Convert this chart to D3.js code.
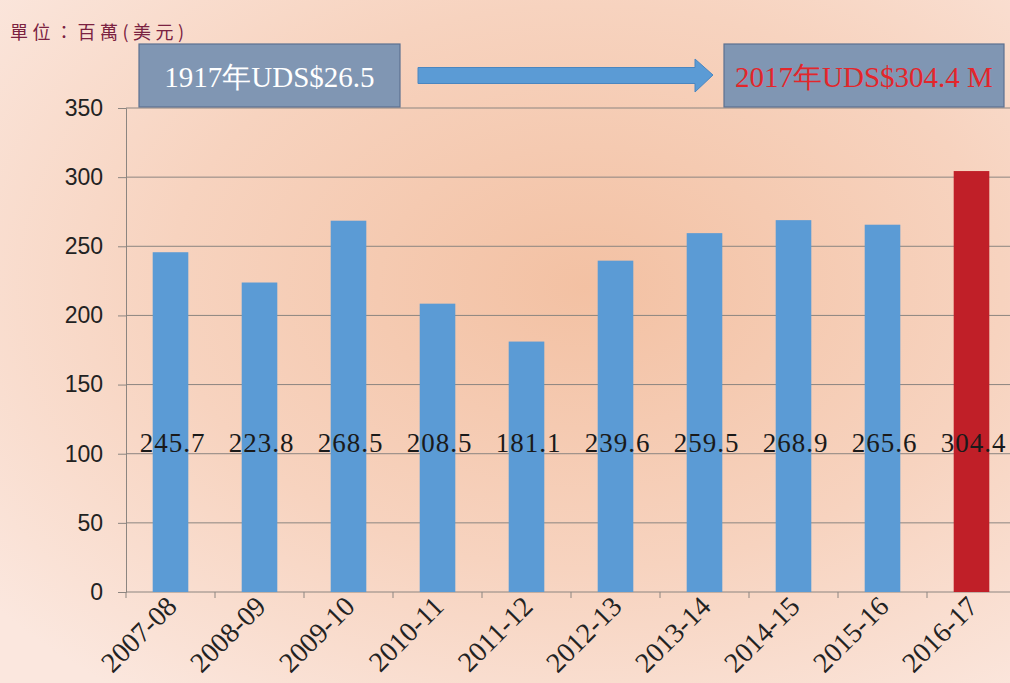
<!DOCTYPE html>
<html>
<head>
<meta charset="utf-8">
<script src="https://cdn.jsdelivr.net/npm/d3@7"></script>
<style>
  html, body { margin: 0; padding: 0; background: #fbe6dc; }
  svg { display: block; }
</style>
</head>
<body>
<div id="chart"></div>
<script>
const seasons = ['2007-08', '2008-09', '2009-10', '2010-11', '2011-12', '2012-13', '2013-14', '2014-15', '2015-16', '2016-17'];
const revenue = [245.7, 223.8, 268.5, 208.5, 181.1, 239.6, 259.5, 268.9, 265.6, 304.4];
const yTicks = [0, 50, 100, 150, 200, 250, 300, 350];
const unitLabel = '單位：百萬(美元)';
const fromLabel = '1917年UDS$26.5';
const toLabel = '2017年UDS$304.4 M';

const W = 1010, H = 683;
const margin = { top: 108, right: -6, bottom: 91, left: 126 };
const width = W - margin.left - margin.right,
      height = H - margin.top - margin.bottom;

const svg = d3.select('#chart').append('svg')
  .attr('width', W)
  .attr('height', H);

// background
const defs = svg.append('defs');
const grad = defs.append('radialGradient')
  .attr('id', 'bg').attr('cx', '58%').attr('cy', '42%').attr('r', '75%');
grad.append('stop').attr('offset', '0%').attr('stop-color', '#f3c1a3');
grad.append('stop').attr('offset', '55%').attr('stop-color', '#f7d3bf');
grad.append('stop').attr('offset', '100%').attr('stop-color', '#fbe7de');
svg.append('rect').attr('width', W).attr('height', H).attr('fill', 'url(#bg)');

const g = svg.append('g')
  .attr('transform', `translate(${margin.left},${margin.top})`);

let x = d3.scaleBand().domain(seasons).range([0, width]).paddingInner(0.6).paddingOuter(0.3);
let y = d3.scaleLinear().domain([0, 350]).range([height, 0]);

// grid lines
g.append('g')
  .selectAll('line')
  .data(yTicks.filter(d => d > 0))
  .join('line')
  .attr('x1', 0).attr('x2', width)
  .attr('y1', d => y(d)).attr('y2', d => y(d))
  .attr('stroke', '#8c8580').attr('stroke-width', 1);

// y axis
const yAxis = g.append('g')
  .call(d3.axisLeft(y).tickValues(yTicks).tickSize(8).tickPadding(15));
yAxis.select('.domain').attr('stroke', '#8c8580');
yAxis.selectAll('.tick line').attr('stroke', '#8c8580');
yAxis.selectAll('.tick text')
  .attr('font-family', 'Liberation Sans, Arial, sans-serif')
  .attr('font-size', 23)
  .attr('fill', '#222');

// x axis, ticks at the band boundaries
const step = x.step();
const xAxis = g.append('g').attr('transform', `translate(0,${height})`);
xAxis.append('line')
  .attr('x1', 0).attr('x2', width)
  .attr('stroke', '#8c8580');
xAxis.selectAll('line.tk')
  .data(d3.range(seasons.length + 1))
  .join('line')
  .attr('class', 'tk')
  .attr('x1', d => d * step).attr('x2', d => d * step)
  .attr('y1', 0).attr('y2', 6)
  .attr('stroke', '#8c8580');
xAxis.selectAll('text')
  .data(seasons)
  .join('text')
  .attr('transform', d => `translate(${x(d) + x.bandwidth() / 2 + 8},${16}) rotate(-45)`)
  .attr('text-anchor', 'end')
  .attr('font-family', 'Liberation Serif, Times New Roman, serif')
  .attr('font-size', 28)
  .attr('fill', '#222')
  .text(d => d);

// bars
g.append('g')
  .selectAll('rect')
  .data(seasons)
  .join('rect')
  .attr('x', d => x(d))
  .attr('y', (d, i) => y(revenue[i]))
  .attr('width', x.bandwidth())
  .attr('height', (d, i) => height - y(revenue[i]))
  .attr('fill', (d, i) => i === seasons.length - 1 ? '#c01f28' : '#5b9bd5');

// value labels
g.append('g')
  .selectAll('text')
  .data(seasons)
  .join('text')
  .attr('x', d => x(d) + x.bandwidth() / 2 + 2)
  .attr('y', y(100) - 2)
  .attr('text-anchor', 'middle')
  .attr('font-family', 'Liberation Serif, Times New Roman, serif')
  .attr('font-size', 27)
  .attr('letter-spacing', 1)
  .attr('fill', '#1a1a1a')
  .text((d, i) => revenue[i].toFixed(1));

// unit label
svg.append('text')
  .attr('x', 10).attr('y', 39)
  .attr('font-family', 'Noto Sans CJK TC, sans-serif')
  .attr('font-size', 18)
  .attr('letter-spacing', 4.5)
  .attr('fill', '#7b2141')
  .text(unitLabel);

// boxes and arrow
const boxes = [
  { x: 139, w: 261, text: fromLabel, color: '#ffffff' },
  { x: 724, w: 280, text: toLabel, color: '#e3262b' }
];
svg.append('g')
  .selectAll('rect')
  .data(boxes)
  .join('rect')
  .attr('x', d => d.x).attr('y', 44)
  .attr('width', d => d.w).attr('height', 63)
  .attr('fill', '#8096b3')
  .attr('stroke', '#5c7190').attr('stroke-width', 1.2);
svg.append('g')
  .selectAll('text')
  .data(boxes)
  .join('text')
  .attr('x', d => d.x + d.w / 2).attr('y', 87)
  .attr('text-anchor', 'middle')
  .attr('font-family', 'Liberation Serif, Times New Roman, serif')
  .attr('font-size', 29)
  .attr('fill', d => d.color)
  .text(d => d.text);

svg.append('path')
  .attr('d', 'M418,67.5 L695,67.5 L695,59 L713,75 L695,92 L695,83.5 L418,83.5 Z')
  .attr('fill', '#5b9bd5')
  .attr('stroke', '#4a86c0').attr('stroke-width', 1);
</script>
</body>
</html>
